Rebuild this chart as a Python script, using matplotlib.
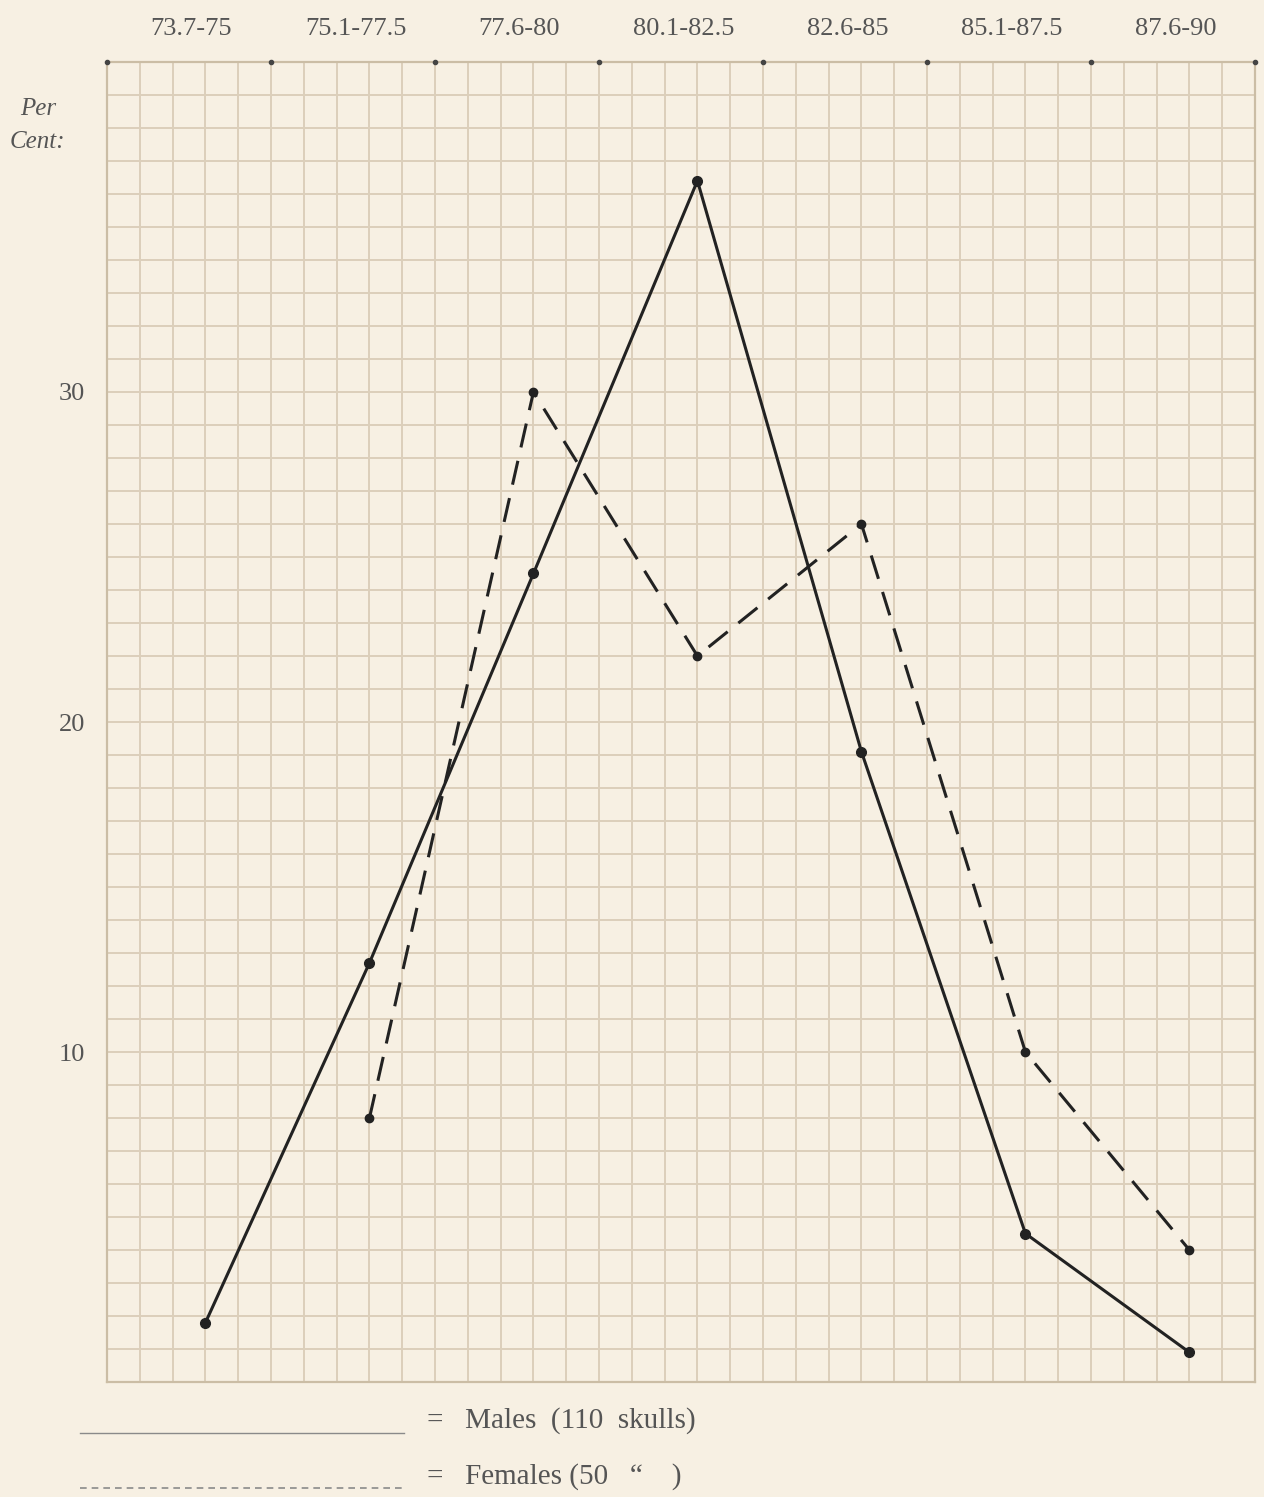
import numpy as np
import matplotlib
matplotlib.use("Agg")
import matplotlib.pyplot as plt
from matplotlib.lines import Line2D
from matplotlib.transforms import ScaledTranslation

# cephalic index groups and per cent of skulls in each
groups = ["73.7-75", "75.1-77.5", "77.6-80", "80.1-82.5", "82.6-85", "85.1-87.5", "87.6-90"]
males = [1.8, 12.7, 24.5, 36.4, 19.1, 4.5, 0.9]            # 110 skulls
females = [None, 8.0, 30.0, 22.0, 26.0, 10.0, 4.0]         # 50 skulls
y_labels = [10, 20, 30]

paper = "#f7f0e3"
grid_col = "#dccfba"
ink = "#222222"
text_col = "#555555"

plt.rcParams["font.family"] = ["Liberation Serif", "DejaVu Serif"]

fig = plt.figure(figsize=(12.64, 14.97), dpi=100, facecolor=paper)
ax = fig.add_axes([0.0847, 0.0768, 0.9082, 0.8818])
ax.set_facecolor(paper)

x = np.arange(len(groups))
ax.set_xlim(-0.6, 6.4)
ax.set_ylim(0, 40)

# graph paper (minor rulings; majors drawn in the same style)
ax.set_xticks(np.round(np.arange(-0.6, 6.41, 0.2), 2), minor=True)
ax.set_yticks(np.arange(0, 41, 1), minor=True)
ax.grid(which="both", color=grid_col, lw=1.4)
ax.tick_params(which="minor", length=0)
for s in ax.spines.values():
    s.set_color("#cbbda5")
    s.set_linewidth(1.6)

# category labels on top
ax.xaxis.tick_top()
ax.set_xticks(x)
ax.set_xticklabels(groups, fontsize=19, color=text_col)
ax.tick_params(axis="x", which="major", length=0, pad=16)
for lab in ax.get_xticklabels():
    lab.set_transform(lab.get_transform() + ScaledTranslation(-0.14, 0, fig.dpi_scale_trans))

ax.set_yticks(y_labels)
ax.set_yticklabels([str(v) for v in y_labels], fontsize=19, color=text_col)
ax.tick_params(axis="y", which="major", length=0, pad=16)

# dots on the top border at the heavy rulings
ax.plot(np.arange(-0.6, 6.41, 1.0), [40] * 8, "o", color="#444444", ms=3,
        clip_on=False, zorder=5)

fx = [xi for xi, v in zip(x, females) if v is not None]
fy = [v for v in females if v is not None]

ax.plot(x, males, color=ink, lw=2.2, marker="o", ms=7, zorder=4)
ax.plot(fx, fy, color=ink, lw=2.2, ls=(0, (8, 4.5)), marker="o", ms=6, zorder=4)

fig.text(0.030, 0.927, "Per", fontsize=18, style="italic", color=text_col, ha="center", va="center")
fig.text(0.030, 0.905, "Cent:", fontsize=18, style="italic", color=text_col, ha="center", va="center")

# key
fig.add_artist(Line2D([0.063, 0.320], [0.0427, 0.0427], color="#8a8a8a", lw=1.0))
fig.add_artist(Line2D([0.063, 0.320], [0.0060, 0.0060], color="#8a8a8a", lw=1.2,
                      ls=(0, (4, 3))))
fig.text(0.338, 0.0514, "=   Males  (110  skulls)", fontsize=21, color=text_col, va="center")
fig.text(0.338, 0.0134, "=   Females (50   \u201c    )", fontsize=21, color=text_col, va="center")

fig.savefig("out.png", dpi=100, facecolor=paper)
